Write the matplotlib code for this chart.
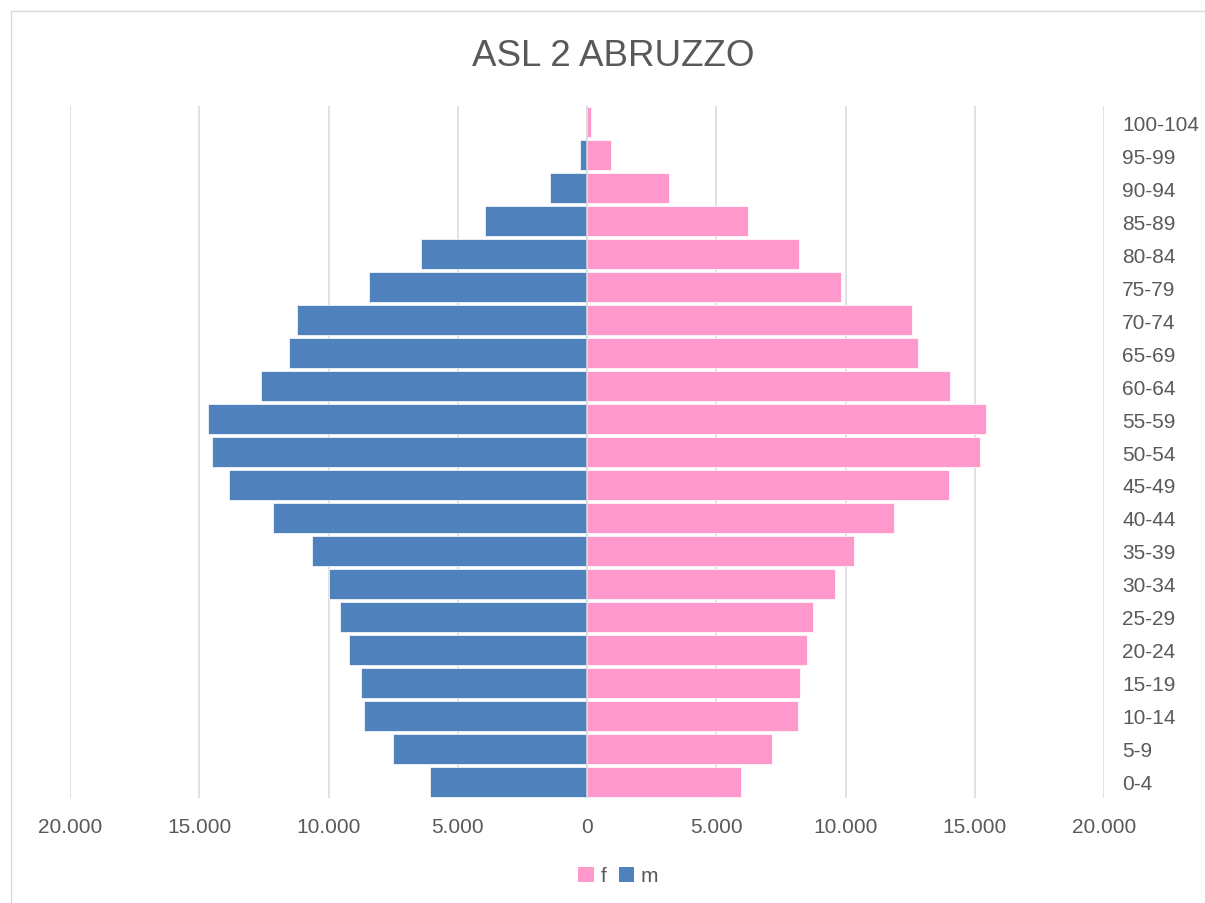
import matplotlib
matplotlib.use("Agg")
import matplotlib.pyplot as plt
from matplotlib.patches import Rectangle, Patch
from matplotlib.ticker import FuncFormatter, MultipleLocator
import numpy as np

plt.rcParams['font.family'] = ['Liberation Sans', 'DejaVu Sans']

# age classes, bottom to top
age_groups = ["0-4", "5-9", "10-14", "15-19", "20-24", "25-29", "30-34", "35-39",
              "40-44", "45-49", "50-54", "55-59", "60-64", "65-69", "70-74",
              "75-79", "80-84", "85-89", "90-94", "95-99", "100-104"]
males = [6070, 7490, 8640, 8750, 9200, 9570, 9980, 10650, 12160, 13860, 14510,
         14670, 12610, 11520, 11230, 8450, 6420, 3950, 1430, 290, 20]
females = [5960, 7160, 8160, 8240, 8510, 8730, 9610, 10330, 11870, 13990, 15200,
           15450, 14030, 12800, 12570, 9830, 8200, 6230, 3180, 920, 160]

BLUE = "#4F81BD"
PINK = "#FF99CC"
TXT = "#595959"
GRID = "#D9D9D9"

fig = plt.figure(figsize=(12.05, 9.04), dpi=100)
ax = fig.add_axes([70 / 1205, 1 - 799 / 904, (1104 - 70) / 1205, (799 - 107) / 904])

y = np.arange(len(age_groups))
ax.barh(y, -np.array(males), height=0.91, color=BLUE, edgecolor="white", linewidth=0.5, zorder=3)
ax.barh(y, females, height=0.91, color=PINK, edgecolor="white", linewidth=0.5, zorder=3)

ax.set_xlim(-20000, 20000)
ax.set_ylim(-0.5, len(age_groups) - 0.5)
ax.xaxis.set_major_locator(MultipleLocator(5000))
ax.xaxis.set_major_formatter(FuncFormatter(lambda v, p: f"{abs(int(v)):,}".replace(",", ".")))
ax.grid(axis="x", color=GRID, linewidth=1.1, zorder=0)
ax.axvline(0, color=GRID, linewidth=1.1, zorder=4)

ax.set_yticks(y)
ax.set_yticklabels(age_groups)
ax.yaxis.tick_right()
ax.tick_params(axis="y", length=0, pad=13, labelsize=15, labelcolor=TXT)
ax.tick_params(axis="x", length=0, pad=13.5, labelsize=15, labelcolor=TXT)
for s in ax.spines.values():
    s.set_visible(False)

fig.text(0.509, 1 - 57 / 904, "ASL 2 ABRUZZO", ha="center", va="center",
         fontsize=26.5, color=TXT)

handles = [Patch(facecolor=PINK, label="f"), Patch(facecolor=BLUE, label="m")]
leg = fig.legend(handles=handles, loc="center", bbox_to_anchor=(0.513, 1 - 877 / 904),
                 ncol=2, frameon=False, fontsize=15, handlelength=0.75, handleheight=0.75,
                 handletextpad=0.3, columnspacing=0.6)
for t in leg.get_texts():
    t.set_color(TXT)

# chart area border
fig.patches.append(Rectangle((10.5 / 1205, -0.1), 1.2, 1.1 - 11.5 / 904,
                             transform=fig.transFigure, fill=False,
                             edgecolor=GRID, linewidth=1.0))

fig.savefig("out.png", dpi=100)
